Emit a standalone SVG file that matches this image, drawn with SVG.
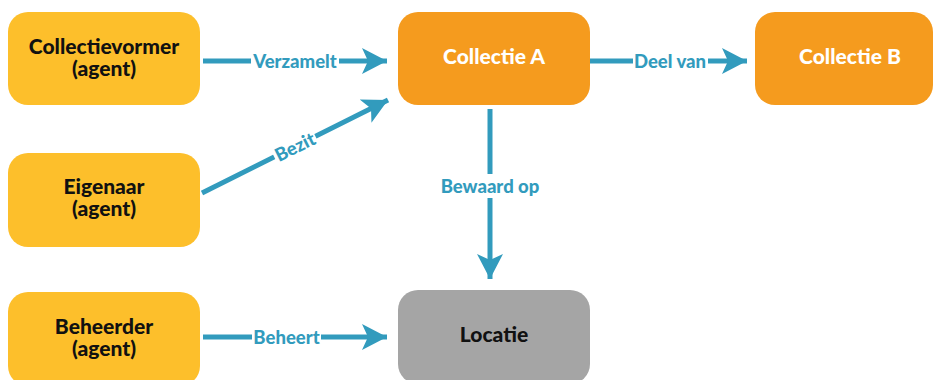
<svg xmlns="http://www.w3.org/2000/svg" width="934" height="380" viewBox="0 0 934 380">
<defs>
<style>
.agent{fill:#FDBF2B}
.coll{fill:#F59B1E}
.loc{fill:#A5A5A5}
.nt{font-family:Lato,"Open Sans","Liberation Sans",sans-serif;font-weight:900;font-size:21px;text-anchor:middle;fill:#111}
.wt{fill:#fff}
.edge{stroke:#329BBD;stroke-width:5;fill:none}
.lbl{font-family:Lato,"Open Sans","Liberation Sans",sans-serif;font-weight:900;font-size:18.5px;text-anchor:middle;fill:#329BBD}
.bg{fill:#fff}
</style>
<marker id="ah" viewBox="0 0 26 26" refX="25" refY="13" markerWidth="26" markerHeight="26" markerUnits="userSpaceOnUse" orient="auto">
<path d="M25 13 L0 0 L6 13 L0 26 Z" fill="#329BBD"/>
</marker>
</defs>
<rect width="934" height="380" fill="#fff"/>
<g id="connectors">
<g id="e-verzamelt">
<line class="edge" x1="203" y1="61" x2="387" y2="61" marker-end="url(#ah)"/>
<rect class="bg" x="251" y="50" width="88" height="22"/>
<text class="lbl" x="295" y="67.5">Verzamelt</text>
</g>
<g id="e-bezit">
<line class="edge" x1="202" y1="193" x2="388" y2="100" marker-end="url(#ah)"/>
<g transform="translate(295,147) rotate(-26.6)">
<rect class="bg" x="-23" y="-11" width="46" height="22"/>
<text class="lbl" x="0" y="6.5">Bezit</text>
</g>
</g>
<g id="e-deelvan">
<line class="edge" x1="590" y1="61" x2="747" y2="61" marker-end="url(#ah)"/>
<rect class="bg" x="633" y="50" width="75" height="22"/>
<text class="lbl" x="670" y="67.5">Deel van</text>
</g>
<g id="e-bewaard">
<line class="edge" x1="490" y1="109" x2="490" y2="279" marker-end="url(#ah)"/>
<rect class="bg" x="438" y="174" width="104" height="24"/>
<text class="lbl" x="490" y="192.5">Bewaard op</text>
</g>
<g id="e-beheert">
<line class="edge" x1="203" y1="337" x2="387" y2="337" marker-end="url(#ah)"/>
<rect class="bg" x="252" y="326" width="69" height="22"/>
<text class="lbl" x="286.5" y="343.5">Beheert</text>
</g>
</g>
<g id="collectievormer">
<rect class="agent" x="8" y="12" width="192" height="93" rx="20"/>
<text class="nt" x="104" y="53.5">Collectievormer<tspan x="104" dy="22">(agent)</tspan></text>
</g>
<g id="eigenaar">
<rect class="agent" x="8" y="153" width="192" height="94" rx="20"/>
<text class="nt" x="104" y="193.5">Eigenaar<tspan x="104" dy="22">(agent)</tspan></text>
</g>
<g id="beheerder">
<rect class="agent" x="8" y="292" width="192" height="94" rx="20"/>
<text class="nt" x="104" y="333.5">Beheerder<tspan x="104" dy="22">(agent)</tspan></text>
</g>
<g id="collectieA">
<rect class="coll" x="398" y="12" width="192" height="93" rx="20"/>
<text class="nt wt" x="494" y="63.5">Collectie A</text>
</g>
<g id="collectieB">
<rect class="coll" x="755" y="12" width="178" height="93" rx="20"/>
<text class="nt wt" x="850" y="64">Collectie B</text>
</g>
<g id="locatie">
<rect class="loc" x="398" y="290" width="192" height="94" rx="20"/>
<text class="nt" x="494" y="342">Locatie</text>
</g>
</svg>
